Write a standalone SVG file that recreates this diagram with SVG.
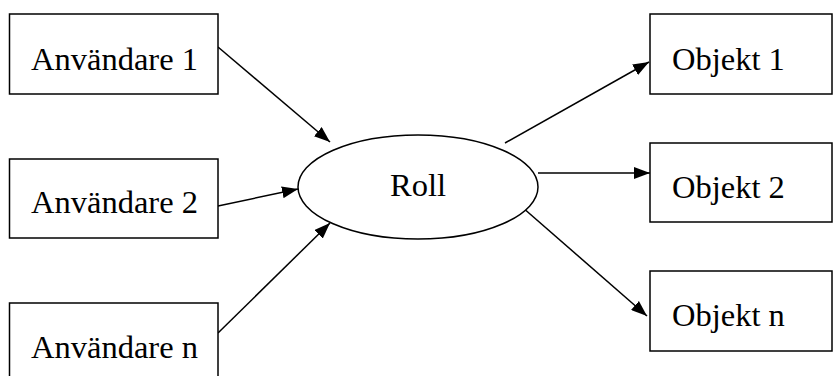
<svg xmlns="http://www.w3.org/2000/svg" width="833" height="376" viewBox="0 0 833 376">
  <style>
    .box { fill: #fff; stroke: #000; stroke-width: 1.5; }
    .label { font-family: "Liberation Serif", "Times New Roman", serif; font-size: 32.5px; fill: #000; }
    .edge { stroke: #000; stroke-width: 1.5; fill: none; marker-end: url(#arrow); }
  </style>
  <defs>
    <marker id="arrow" viewBox="0 0 16 12" refX="16" refY="6" markerWidth="16" markerHeight="12" markerUnits="userSpaceOnUse" orient="auto">
      <path d="M0,0 L16,6 L0,12 Z" fill="#000"/>
    </marker>
  </defs>
  <rect width="833" height="376" fill="#fff"/>

  <g id="connectors">
    <line class="edge" x1="218" y1="47" x2="330" y2="142"/>
    <line class="edge" x1="218" y1="206" x2="298" y2="189"/>
    <line class="edge" x1="218" y1="333" x2="330" y2="223"/>
    <line class="edge" x1="505" y1="143" x2="649" y2="62"/>
    <line class="edge" x1="538" y1="173" x2="650" y2="173"/>
    <line class="edge" x1="522" y1="207" x2="647" y2="316"/>
  </g>

  <g id="anvandare-1">
    <rect class="box" x="9.5" y="14" width="208.5" height="80"/>
    <text class="label" x="31" y="70">Användare 1</text>
  </g>
  <g id="anvandare-2">
    <rect class="box" x="9.5" y="159" width="208.5" height="79"/>
    <text class="label" x="31" y="213">Användare 2</text>
  </g>
  <g id="anvandare-n">
    <rect class="box" x="9.5" y="303" width="208.5" height="85"/>
    <text class="label" x="31" y="358">Användare n</text>
  </g>

  <g id="roll">
    <ellipse class="box" cx="418" cy="187" rx="120" ry="52"/>
    <text class="label" x="418" y="196" text-anchor="middle">Roll</text>
  </g>

  <g id="objekt-1">
    <rect class="box" x="650" y="14" width="182" height="80"/>
    <text class="label" x="672" y="70">Objekt 1</text>
  </g>
  <g id="objekt-2">
    <rect class="box" x="650" y="143" width="182" height="79"/>
    <text class="label" x="672" y="198">Objekt 2</text>
  </g>
  <g id="objekt-n">
    <rect class="box" x="650" y="271" width="182" height="80"/>
    <text class="label" x="672" y="326">Objekt n</text>
  </g>
</svg>
